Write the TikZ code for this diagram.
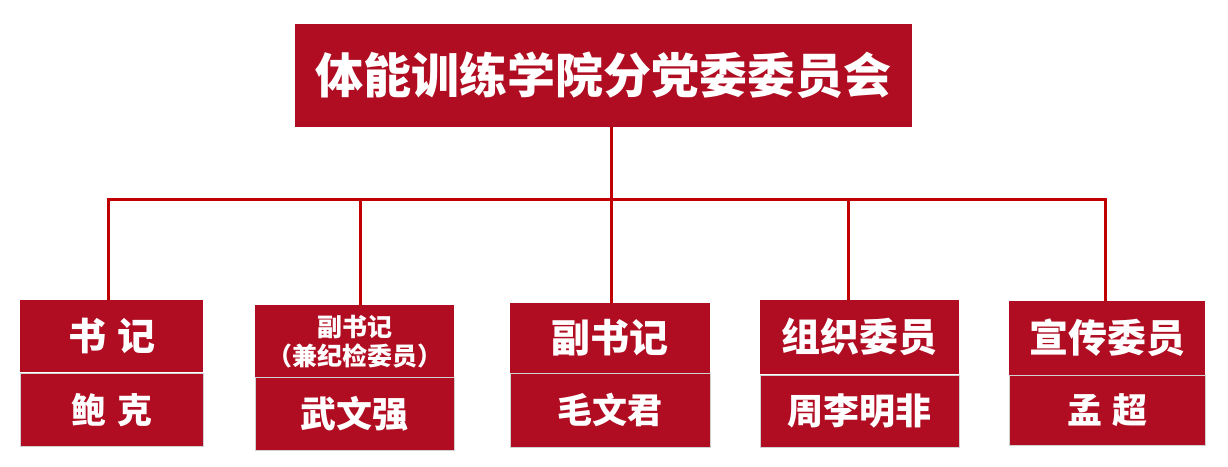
\documentclass[tikz,border=0pt]{standalone}
\usepackage{fontspec}
\setmainfont{Noto Sans CJK SC}
\usetikzlibrary{calc}
\definecolor{boxred}{HTML}{B00D22}
\definecolor{linered}{HTML}{C00000}
\tikzset{
  box/.style={fill=boxred, text=white, inner sep=0pt, anchor=north west, font=\bfseries, align=center},
  namebox/.style={box, draw=black!18, line width=0.8pt},
  link/.style={draw=linered, line width=3pt}
}
\begin{document}
\begin{tikzpicture}[x=1pt,y=1pt]
\useasboundingbox (0,0) rectangle (1228,-466);
% top
\node[box, minimum width=617pt, minimum height=103pt, font=\bfseries\fontsize{48}{52}\selectfont] (top) at (295,-24) {体能训练学院分党委委员会};
% titles
\node[box, minimum width=183pt, minimum height=72pt, font=\bfseries\fontsize{38}{42}\selectfont] (t1) at (20,-300) {书\hspace{0.3em}记};
\node[namebox, minimum width=183pt, minimum height=73pt, font=\bfseries\fontsize{35}{38}\selectfont] (n1) at (20,-373) {鲍\hspace{0.3em}克};
\node[box, minimum width=199pt, minimum height=72pt, font=\bfseries\fontsize{25}{29}\selectfont] (t2) at (255,-305) {副书记\\（兼纪检委员）};
\node[namebox, minimum width=199pt, minimum height=73pt, font=\bfseries\fontsize{36}{38}\selectfont] (n2) at (255,-377) {武文强};
\node[box, minimum width=200pt, minimum height=70pt, font=\bfseries\fontsize{39}{42}\selectfont] (t3) at (510,-303) {副书记};
\node[namebox, minimum width=200pt, minimum height=74pt, font=\bfseries\fontsize{35}{38}\selectfont] (n3) at (510,-373) {毛文君};
\node[box, minimum width=199pt, minimum height=74pt, font=\bfseries\fontsize{39}{42}\selectfont] (t4) at (760,-300) {组织委员};
\node[namebox, minimum width=199pt, minimum height=72pt, font=\bfseries\fontsize{36}{38}\selectfont] (n4) at (760,-375) {周李明非};
\node[box, minimum width=196pt, minimum height=74pt, font=\bfseries\fontsize{39}{42}\selectfont] (t5) at (1009,-301) {宣传委员};
\node[namebox, minimum width=196pt, minimum height=70pt, font=\bfseries\fontsize{35}{38}\selectfont] (n5) at (1009,-375) {孟\hspace{0.3em}超};
% connectors
\coordinate (bus) at ($([xshift=7.5pt]top.south)+(0,-72)$);
\draw[link] ([xshift=7.5pt]top.south) -- (bus);
\draw[link] ([xshift=-3.5pt]t1.north) |- (bus);
\draw[link] ([xshift=5.5pt]t2.north) |- (bus);
\draw[link] ([xshift=1pt]t3.north) |- (bus);
\draw[link] ([xshift=-11.5pt]t4.north) |- (bus);
\draw[link] ([xshift=-2pt]t5.north) |- (bus);
\end{tikzpicture}
\end{document}
